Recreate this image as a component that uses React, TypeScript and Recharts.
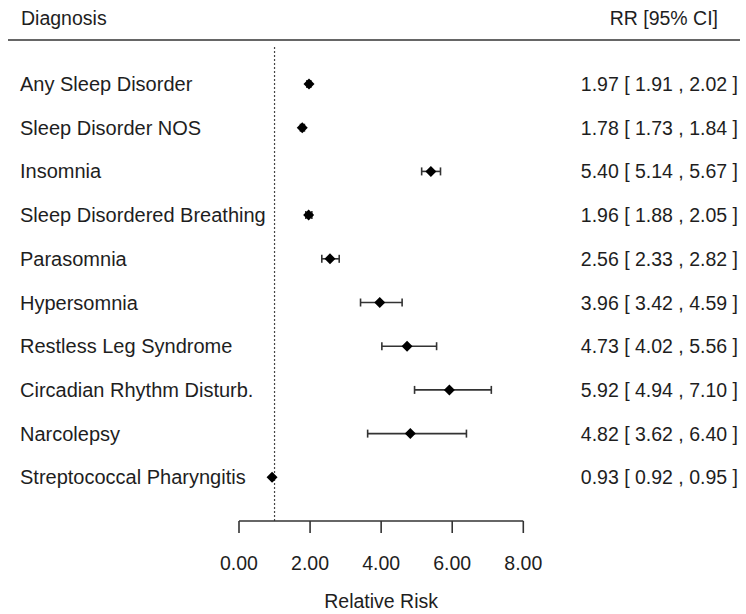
import React from 'react';
import {
  ScatterChart,
  Scatter,
  XAxis,
  YAxis,
  ErrorBar,
  ReferenceLine,
  Customized,
} from 'recharts';

const categories = [
  'Any Sleep Disorder',
  'Sleep Disorder NOS',
  'Insomnia',
  'Sleep Disordered Breathing',
  'Parasomnia',
  'Hypersomnia',
  'Restless Leg Syndrome',
  'Circadian Rhythm Disturb.',
  'Narcolepsy',
  'Streptococcal Pharyngitis',
];
const rrValues = [1.97, 1.78, 5.4, 1.96, 2.56, 3.96, 4.73, 5.92, 4.82, 0.93];
const ciLow = [1.91, 1.73, 5.14, 1.88, 2.33, 3.42, 4.02, 4.94, 3.62, 0.92];
const ciHigh = [2.02, 1.84, 5.67, 2.05, 2.82, 4.59, 5.56, 7.1, 6.4, 0.95];
const xTicks = [0, 2, 4, 6, 8];
const nullValue = 1;

const FONT = '"Liberation Sans", Arial, Helvetica, sans-serif';
const FS = 19.5;
const FS_LEFT = 20;
const TEXT = '#1e1e1e';

const rows = categories.map((name, i) => ({
  name,
  idx: i,
  rr: rrValues[i],
  err: [rrValues[i] - ciLow[i], ciHigh[i] - rrValues[i]],
  label: `${rrValues[i].toFixed(2)} [ ${ciLow[i].toFixed(2)} , ${ciHigh[i].toFixed(2)} ]`,
}));

const RowTick = (props: any) => {
  const { y, payload } = props;
  const r = rows[payload.value];
  if (!r) return <g />;
  return (
    <g>
      <text x={20} y={y + 7} fill={TEXT} fontSize={FS_LEFT} fontFamily={FONT} textAnchor="start">
        {r.name}
      </text>
      <text x={738} y={y + 7} fill={TEXT} fontSize={FS} fontFamily={FONT} textAnchor="end">
        {r.label}
      </text>
    </g>
  );
};

const Diamond = (props: any) => {
  const { cx, cy } = props;
  if (cx == null || cy == null) return <g />;
  const h = 5.5;
  return (
    <polygon
      points={`${cx},${cy - h} ${cx + h},${cy} ${cx},${cy + h} ${cx - h},${cy}`}
      fill="#000"
    />
  );
};

const Header = () => (
  <g>
    <text x={21} y={25} fill={TEXT} fontSize={FS} fontFamily={FONT}>
      Diagnosis
    </text>
    <text x={718} y={25} fill={TEXT} fontSize={FS} fontFamily={FONT} textAnchor="end">
      RR [95% CI]
    </text>
    <line x1={8} y1={40} x2={740} y2={40} stroke="#333" strokeWidth={1.6} />
  </g>
);

export default function App() {
  return (
    <div style={{ position: 'absolute', left: 0, top: 0, width: 746, height: 614, background: '#fff' }}>
      <ScatterChart
        width={746}
        height={614}
        margin={{ top: 46, right: 222.7, bottom: 0, left: 0 }}
      >
        <XAxis
          type="number"
          dataKey="rr"
          domain={[0, 8]}
          ticks={xTicks}
          allowDataOverflow
          tickFormatter={(v: number) => v.toFixed(2)}
          tickSize={12}
          tickMargin={23}
          height={93}
          axisLine={{ stroke: '#333', strokeWidth: 1.6 }}
          tickLine={{ stroke: '#333', strokeWidth: 1.6 }}
          tick={{ fill: TEXT, fontSize: FS, fontFamily: FONT }}
          label={{
            value: 'Relative Risk',
            position: 'insideBottom',
            offset: 6,
            fill: TEXT,
            fontSize: FS,
            fontFamily: FONT,
          }}
        />
        <YAxis
          type="number"
          dataKey="idx"
          domain={[-0.87, 10]}
          reversed
          allowDataOverflow
          ticks={rows.map((r) => r.idx)}
          interval={0}
          width={239}
          axisLine={false}
          tickLine={false}
          tick={<RowTick />}
        />
        <ReferenceLine
          x={nullValue}
          stroke="#444"
          strokeWidth={1.2}
          strokeDasharray="2 2"
          ifOverflow="extendDomain"
        />
        <Scatter data={rows} shape={<Diamond />} isAnimationActive={false}>
          <ErrorBar
            dataKey="err"
            direction="x"
            width={4}
            stroke="#333"
            strokeWidth={1.6}
            isAnimationActive={false}
          />
        </Scatter>
        <Customized component={Header} />
      </ScatterChart>
    </div>
  );
}
